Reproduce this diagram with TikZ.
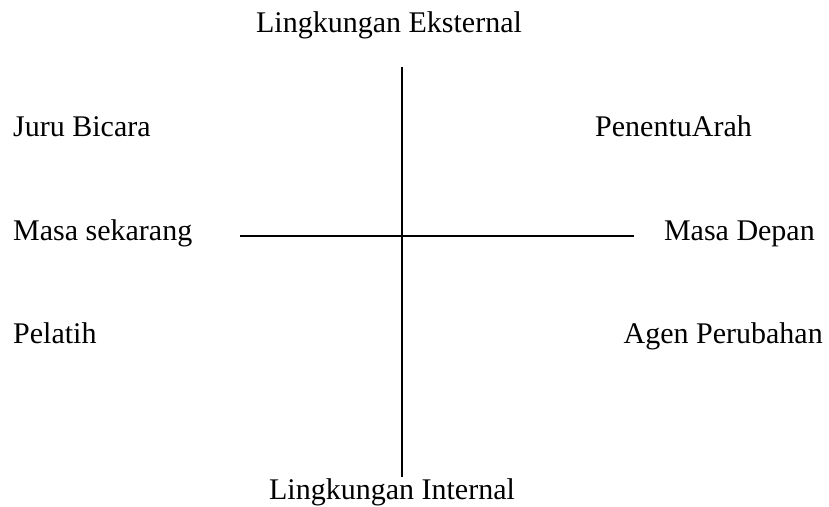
\documentclass[tikz,border=0pt]{standalone}
\usepackage{fontspec}
\setmainfont{Liberation Serif}
\usetikzlibrary{positioning}
\tikzset{
  lbl/.style={font=\fontsize{30}{36}\selectfont, inner sep=0pt},
  axis/.style={line width=1.5pt}
}

\begin{document}
\begin{tikzpicture}[x=1pt, y=-1pt]
    \useasboundingbox (0,0) rectangle (829,506);
    \node[lbl, anchor=base] (ext) at (389,32) {Lingkungan Eksternal};
    \node[lbl, anchor=base west] (juru) at (13,136) {Juru Bicara};
    \node[lbl, anchor=base west] (sekarang) at (13,240) {Masa sekarang};
    \node[lbl, anchor=base west] (pelatih) at (13,343) {Pelatih};
    \node[lbl, anchor=base west] (arah) at (595,136) {PenentuArah};
    \node[lbl, anchor=base east] (depan) at (815,240) {Masa Depan};
    \node[lbl, anchor=base east] (agen) at (823,343) {Agen Perubahan};
    \node[lbl, anchor=base] (int) at (392,499) {Lingkungan Internal};

    \coordinate (top) at (402,67);
    \coordinate (bot) at (402,477);
    \coordinate (west) at (240,236);
    \coordinate (east) at (634,236);
    \draw[axis] (top) -- (bot);
    \draw[axis] (west) -- (east);
\end{tikzpicture}
\end{document}
